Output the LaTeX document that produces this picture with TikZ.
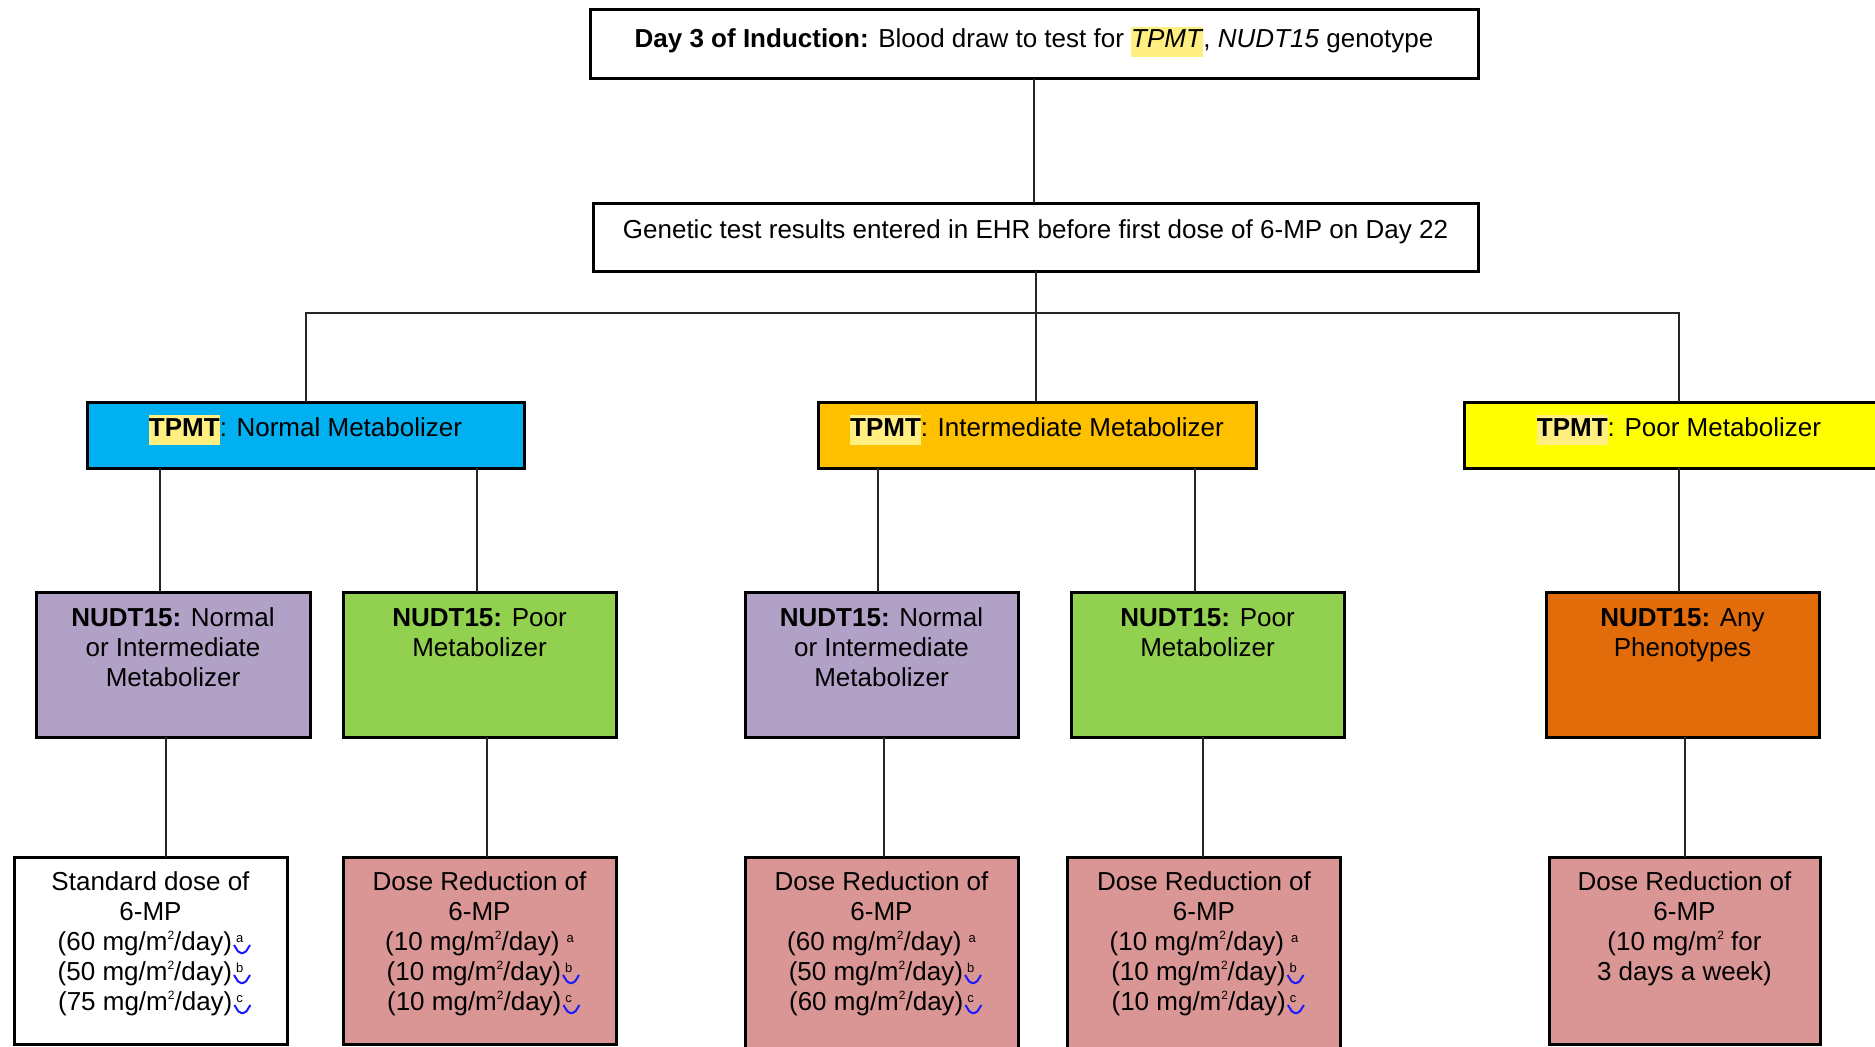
\documentclass[tikz,border=0pt]{standalone}
\usepackage{fontspec}
\setmainfont{Liberation Sans}
\definecolor{cnormal}{HTML}{00B0F0}
\definecolor{cinter}{HTML}{FFC000}
\definecolor{cpoor}{HTML}{FFFF00}
\definecolor{cpurple}{HTML}{B2A1C7}
\definecolor{cgreen}{HTML}{92D050}
\definecolor{corange}{HTML}{E36C0A}
\definecolor{cpink}{HTML}{DA9694}
\definecolor{hly}{HTML}{FFEE80}
\definecolor{sqb}{HTML}{1A1AFF}
\setlength{\fboxsep}{0pt}
\newcommand{\hlt}[1]{\colorbox{hly}{\strut #1}}
\newcommand{\tb}[4]{\parbox[c][#2pt][t]{#1pt}{\centering\vspace*{#3pt}\strut #4}}
\newcommand{\supl}[1]{\raisebox{8pt}{\fontsize{13}{13}\selectfont #1}}
\newcommand{\sq}[1]{\rlap{\kern1pt\tikz[baseline=0pt]\draw[sqb,line width=2pt,rounded corners=2pt] (0pt,5pt) -- (5pt,-3pt) -- (11pt,-3pt) -- (16pt,5pt);}\kern4pt\supl{#1}}
\newcommand{\msq}{m\raisebox{11pt}{\fontsize{12}{12}\selectfont 2}}
\tikzset{
  box/.style={draw=black, line width=3pt, inner sep=0pt, outer sep=0pt, anchor=center,
    font=\fontsize{26}{30}\selectfont},
  conn/.style={line width=2pt, draw=black!85},
}
\begin{document}
\begin{tikzpicture}[x=1pt,y=1pt]
\useasboundingbox (0,0) rectangle (1875,-1047);
% top boxes
\node[box] (top) at (1034,-44) {\tb{888}{69}{17}{\textbf{Day 3 of Induction:} Blood draw to test for \hlt{\textit{TPMT}}, \textit{NUDT15} genotype}};
\node[box] (ehr) at (1035.5,-237) {\tb{885}{68}{14}{Genetic test results entered in EHR before first dose of 6-MP on Day 22}};
% TPMT row
\node[box, fill=cnormal] (normal) at (305.5,-435) {\tb{437}{66}{13}{\hlt{\textbf{TPMT}}: Normal Metabolizer}};
\node[box, fill=cinter] (inter) at (1037,-435) {\tb{438}{66}{13}{\hlt{\textbf{TPMT}}: Intermediate Metabolizer}};
\node[box, fill=cpoor] (poor) at (1679,-435) {\tb{430}{66}{13}{\hlt{\textbf{TPMT}}: Poor Metabolizer}};
% NUDT15 row
\node[box, fill=cpurple] (na) at (173,-664.5) {\tb{274}{145}{13}{\textbf{NUDT15:} Normal\\ or Intermediate\\ Metabolizer}};
\node[box, fill=cgreen] (nb) at (479.5,-664.5) {\tb{273}{145}{13}{\textbf{NUDT15:} Poor\\ Metabolizer}};
\node[box, fill=cpurple] (nc) at (881.5,-664.5) {\tb{273}{145}{13}{\textbf{NUDT15:} Normal\\ or Intermediate\\ Metabolizer}};
\node[box, fill=cgreen] (nd) at (1207.5,-664.5) {\tb{273}{145}{13}{\textbf{NUDT15:} Poor\\ Metabolizer}};
\node[box, fill=corange] (ne) at (1682.5,-664.5) {\tb{273}{145}{13}{\textbf{NUDT15:} Any\\ Phenotypes}};
% dose row
\node[box, fill=white] (da) at (150.5,-950.5) {\tb{273}{187}{12}{Standard dose of\\ 6-MP\\ (60 mg/\msq/day)\sq{a}\\ (50 mg/\msq/day)\sq{b}\\ (75 mg/\msq/day)\sq{c}}};
\node[box, fill=cpink] (db) at (479.5,-950.5) {\tb{273}{187}{12}{Dose Reduction of\\ 6-MP\\ (10 mg/\msq/day) \supl{a}\\ (10 mg/\msq/day)\sq{b}\\ (10 mg/\msq/day)\sq{c}}};
\node[box, fill=cpink] (dc) at (881.5,-958.5) {\tb{273}{203}{12}{Dose Reduction of\\ 6-MP\\ (60 mg/\msq/day) \supl{a}\\ (50 mg/\msq/day)\sq{b}\\ (60 mg/\msq/day)\sq{c}}};
\node[box, fill=cpink] (dd) at (1204,-958.5) {\tb{273}{203}{12}{Dose Reduction of\\ 6-MP\\ (10 mg/\msq/day) \supl{a}\\ (10 mg/\msq/day)\sq{b}\\ (10 mg/\msq/day)\sq{c}}};
\node[box, fill=cpink] (de) at (1684.5,-950.5) {\tb{271}{187}{12}{Dose Reduction of\\ 6-MP\\ (10 mg/\msq{} for\\ 3 days a week)}};
% connectors
\coordinate (bar) at (1035,-313);
\draw[conn] (top.south) -- (top.south |- ehr.north);
\draw[conn] (ehr.south) -- (ehr.south |- inter.north);
\draw[conn] (normal.north) -- (normal.north |- bar) -- (poor.north |- bar) -- (poor.north);
\draw[conn] ([xshift=-13pt]na.north) -- ([xshift=-13pt]na.north |- normal.south);
\draw[conn] ([xshift=-2.5pt]nb.north) -- ([xshift=-2.5pt]nb.north |- normal.south);
\draw[conn] ([xshift=-3.5pt]nc.north) -- ([xshift=-3.5pt]nc.north |- inter.south);
\draw[conn] ([xshift=-12.5pt]nd.north) -- ([xshift=-12.5pt]nd.north |- inter.south);
\draw[conn] ([xshift=-3.5pt]ne.north) -- ([xshift=-3.5pt]ne.north |- poor.south);
\draw[conn] ([xshift=15.5pt]da.north) -- ([xshift=15.5pt]da.north |- na.south);
\draw[conn] ([xshift=7.5pt]db.north) -- ([xshift=7.5pt]db.north |- nb.south);
\draw[conn] ([xshift=2.5pt]dc.north) -- ([xshift=2.5pt]dc.north |- nc.south);
\draw[conn] ([xshift=-1pt]dd.north) -- ([xshift=-1pt]dd.north |- nd.south);
\draw[conn] (de.north) -- (de.north |- ne.south);
\end{tikzpicture}
\end{document}
